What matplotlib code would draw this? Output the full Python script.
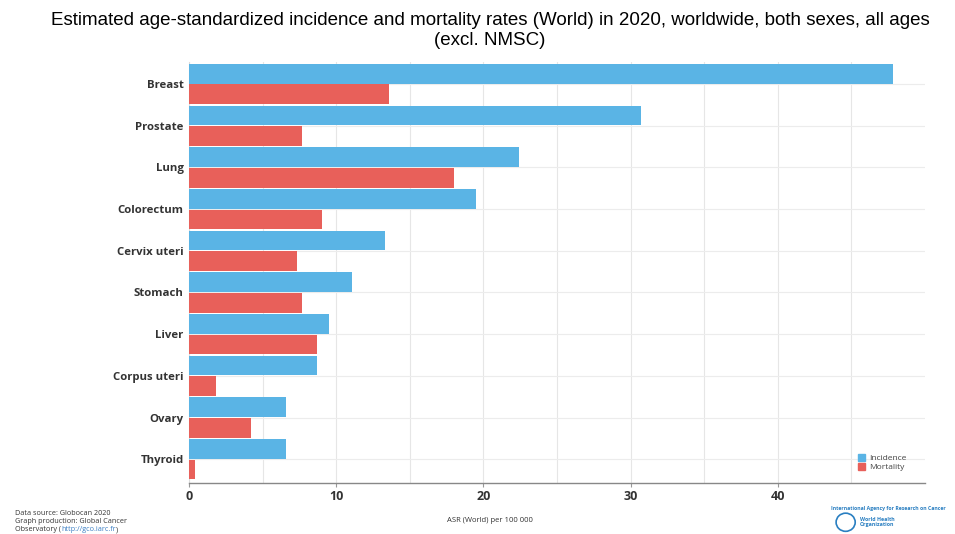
import matplotlib
matplotlib.use("Agg")
import matplotlib.pyplot as plt
from matplotlib.patches import Patch, Ellipse
import numpy as np

cancers = ['Breast', 'Prostate', 'Lung', 'Colorectum', 'Cervix uteri',
           'Stomach', 'Liver', 'Corpus uteri', 'Ovary', 'Thyroid']
incidence = [47.8, 30.7, 22.4, 19.5, 13.3, 11.1, 9.5, 8.7, 6.6, 6.6]
mortality = [13.6, 7.7, 18.0, 9.0, 7.3, 7.7, 8.7, 1.8, 4.2, 0.4]
x_ticks = [0, 10, 20, 30, 40]

blue = '#5ab4e5'
red = '#e8605a'

fig = plt.figure(figsize=(9.55, 5.34), dpi=100)
ax = fig.add_axes([0.198, 0.0955, 0.7706, 0.7885])

y = np.arange(len(cancers))
h = 0.475
ax.barh(y - h / 2 - 0.01, incidence, height=h, color=blue, zorder=3)
ax.barh(y + h / 2 + 0.01, mortality, height=h, color=red, zorder=3)

ax.set_xlim(0, 50)
ax.set_ylim(9.57, -0.53)
ax.set_yticks(y)
ax.set_yticklabels(cancers, fontsize=8.2, fontweight='bold', color='#333333',
                   family='Open Sans')
ax.set_xticks(x_ticks)
ax.set_xticklabels([str(t) for t in x_ticks], fontsize=9, fontweight='bold',
                   color='#333333', family='Open Sans')
ax.set_xticks(np.arange(5, 50, 5), minor=True)
ax.tick_params(axis='y', length=0, pad=4)
ax.tick_params(axis='x', which='major', length=3, color='#999999', pad=2)
ax.tick_params(axis='x', which='minor', length=0)

ax.grid(axis='x', which='both', color='#e6e6e6', linewidth=0.8, zorder=0)
ax.grid(axis='y', color='#ececec', linewidth=0.8, zorder=0)
for s in ['top', 'right']:
    ax.spines[s].set_visible(False)
ax.spines['left'].set_color('#dddddd')
ax.spines['bottom'].set_color('#888888')
ax.spines['bottom'].set_linewidth(1.0)

fig.text(0.513, 0.962, 'Estimated age-standardized incidence and mortality rates (World) in 2020, worldwide, both sexes, all ages',
         ha='center', va='center', fontsize=13.5, family='Liberation Sans')
fig.text(0.513, 0.924, '(excl. NMSC)', ha='center', va='center', fontsize=13.5,
         family='Liberation Sans')

fig.text(0.513, 0.026, 'ASR (World) per 100 000', ha='center', va='center',
         fontsize=5.5, color='#333333', family='Open Sans')

fig.text(0.016, 0.045, 'Data source: Globocan 2020\nGraph production: Global Cancer',
         ha='left', va='top', fontsize=5.2, color='#333333', family='Open Sans',
         linespacing=1.25)

# last footer line: plain text, blue link, closing bracket, placed one after another
parts = [('Observatory (', '#333333'), ('http://gco.iarc.fr', '#3b7fc4'), (')', '#333333')]
renderer = fig.canvas.get_renderer()
x0 = 0.016
for txt, col in parts:
    t = fig.text(x0, 0.008, txt, ha='left', va='center', fontsize=5.2,
                 color=col, family='Open Sans')
    bb = t.get_window_extent(renderer=renderer)
    x0 += bb.width / fig.bbox.width

leg = ax.legend(handles=[Patch(color=blue, label='Incidence'),
                         Patch(color=red, label='Mortality')],
                loc='lower right', bbox_to_anchor=(0.985, 0.01), frameon=False,
                handlelength=0.8, handleheight=0.8,
                handletextpad=0.5, labelspacing=0.1, prop={'family': 'Open Sans', 'size': 6})
for t in leg.get_texts():
    t.set_color('#444444')

fig.text(0.870, 0.048, 'International Agency for Research on Cancer', ha='left',
         va='center', fontsize=3.7, color='#2a7fc1', fontweight='bold',
         family='Open Sans')
fig.patches.append(Ellipse((0.8855, 0.022), 0.02, 0.034, transform=fig.transFigure,
                           facecolor='white', edgecolor='#2a7fc1', linewidth=1.2))
fig.text(0.900, 0.022, 'World Health\nOrganization', ha='left', va='center',
         fontsize=3.8, color='#2a7fc1', fontweight='bold', family='Open Sans',
         linespacing=1.0)

fig.savefig('out.png', dpi=100)
